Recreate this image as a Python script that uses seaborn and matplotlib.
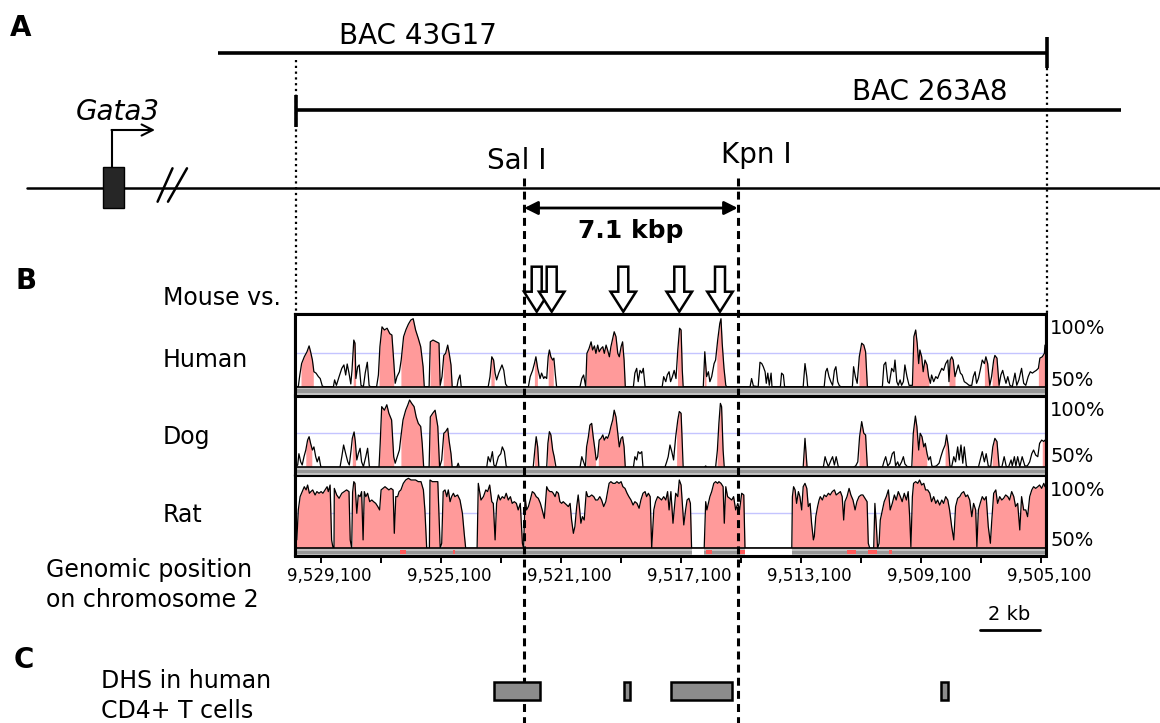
import numpy as np
import pandas as pd
import matplotlib
matplotlib.use("Agg")
import matplotlib.pyplot as plt
import seaborn as sns
from matplotlib.patches import Rectangle, FancyArrow
from matplotlib.transforms import ScaledTranslation

sns.set_theme(style="white")
plt.rcParams["font.family"] = ["DejaVu Sans"]
plt.rcParams["text.color"] = "black"
plt.rcParams["xtick.color"] = "black"
plt.rcParams["axes.labelcolor"] = "black"

# ---------------- data ----------------
# conservation profiles: position = kb from the left end of the VISTA window, identity in %
human_kb = [0.00, 0.11, 0.16, 0.22, 0.31, 0.40, 0.47, 0.52, 0.58, 0.63, 0.70, 0.78, 0.84, 0.91, 0.96,
            1.28, 1.32, 1.38, 1.47, 1.56, 1.63, 1.69, 1.74, 1.80, 1.86, 1.90, 1.96, 2.00, 2.03, 2.09,
            2.14, 2.20, 2.28, 2.34, 2.41, 2.47, 2.51, 2.72, 2.78, 2.83, 2.90, 2.98, 3.07, 3.16, 3.23,
            3.30, 3.34, 3.40, 3.48, 3.54, 3.62, 3.70, 3.78, 3.86, 3.94, 4.02, 4.11, 4.19, 4.27, 4.31,
            4.47, 4.51, 4.60, 4.71, 4.80, 4.84, 4.90, 4.96, 5.02, 5.09, 5.14, 5.20, 5.24, 5.40, 5.44,
            5.50, 5.54, 6.44, 6.50, 6.56, 6.62, 6.67, 6.72, 6.79, 6.84, 6.90, 6.96, 7.02, 7.08, 7.78,
            7.84, 7.92, 7.98, 8.03, 8.09, 8.17, 8.22, 8.29, 8.33, 8.39, 8.44, 8.48, 8.53, 8.59, 8.63,
            8.68, 8.72, 9.50, 9.56, 9.62, 9.69, 9.73, 9.80, 9.87, 9.92, 9.98, 10.03, 10.09, 10.14,
            10.20, 10.26, 10.31, 10.37, 10.42, 10.48, 10.53, 10.59, 10.64, 10.70, 10.76, 10.81, 10.87,
            10.92, 10.97, 11.01, 11.28, 11.33, 11.39, 11.44, 11.50, 11.56, 11.61, 11.67, 12.24, 12.29,
            12.36, 12.41, 12.47, 12.52, 12.58, 12.64, 12.70, 12.76, 12.82, 12.87, 12.91, 12.94, 13.61,
            13.66, 13.72, 13.78, 13.83, 13.89, 13.97, 14.02, 14.09, 14.16, 14.20, 14.24, 14.30, 14.36,
            14.39, 15.17, 15.22, 15.28, 15.44, 15.50, 15.56, 15.61, 15.67, 15.71, 15.76, 15.81, 15.87,
            15.90, 16.18, 16.22, 16.28, 16.32, 16.94, 17.00, 17.06, 17.09, 17.64, 17.69, 17.74, 17.80,
            17.86, 17.92, 17.98, 18.03, 18.09, 18.14, 18.19, 18.58, 18.62, 18.68, 18.74, 18.81, 18.89,
            18.96, 19.02, 19.08, 19.58, 19.63, 19.69, 19.76, 19.81, 19.89, 19.96, 20.00, 20.06, 20.11,
            20.17, 20.22, 20.28, 20.33, 20.40, 20.47, 20.58, 20.63, 20.69, 20.74, 20.79, 20.83, 20.89,
            20.94, 21.00, 21.07, 21.12, 21.18, 21.22, 21.29, 21.36, 21.42, 21.49, 21.56, 21.62, 21.69,
            21.76, 21.80, 21.84, 21.89, 21.94, 22.00, 22.06, 22.11, 22.18, 22.24, 22.31, 22.39, 22.47,
            22.56, 22.61, 22.67, 22.72, 22.78, 22.84, 22.91, 22.98, 23.03, 23.09, 23.16, 23.22, 23.29,
            23.33, 23.40, 23.47, 23.53, 23.59, 23.64, 23.70, 23.76, 23.83, 23.91, 24.00, 24.06, 24.13,
            24.22, 24.29, 24.36, 24.44, 24.51, 24.58, 24.64, 24.71, 24.78, 24.83, 24.91, 24.98, 25.00]
human_pct = [50, 50, 58.6, 67, 72, 75.7, 80, 75.7, 69.6, 61, 60, 57.4, 56, 50.5, 50,
             50, 55, 51, 57.4, 63.5, 66, 58.6, 66.7, 60, 52, 62, 84.3, 82, 56, 64.7,
             66, 51, 50, 60, 68, 51, 50, 50, 58.6, 79.4, 94, 91.7, 93, 89, 88,
             66, 52.5, 57.4, 61, 69.6, 86.8, 92, 96, 99, 100, 91.7, 85.5, 79.4, 64.7, 50,
             50, 83, 84.3, 83, 82, 51, 57.4, 73, 74.5, 80.6, 74.5, 66, 50, 50, 55,
             58.6, 50, 50, 57.4, 72, 69.6, 60, 55, 60, 62.7, 66, 62, 52, 50, 50,
             57.4, 62, 67, 72, 63.5, 56, 60, 56, 57.4, 56, 72, 77, 72, 69.6, 71,
             58.6, 50, 50, 56, 58.6, 50, 74.5, 78, 83, 77, 80, 74.5, 80.6, 75.7,
             78, 79.4, 74.5, 80.6, 77, 72, 79.4, 85.5, 90.4, 86.8, 74.5, 72, 79.4,
             83, 69.6, 50, 50, 60, 63.5, 53.7, 62, 60, 63.5, 50, 50, 57.4,
             53.7, 58.6, 61, 53.7, 57.4, 62, 56, 77, 93, 91.7, 62, 50, 50,
             75.7, 57.4, 61, 53.7, 57.4, 67, 69.6, 84.3, 96.5, 100, 82, 63.5, 51,
             50, 50, 56, 50.5, 50, 68, 67, 64.7, 61, 52.5, 60, 51, 60,
             50, 50, 60, 58.6, 50, 50, 67, 57.4, 50, 50, 61, 63.5, 57.4,
             53.7, 51, 62, 64.7, 53.7, 51, 50, 50, 64.7, 57.4, 52.5, 72, 82,
             80.6, 75.7, 50, 50, 66, 68, 53.7, 52.5, 63.5, 61, 69.6, 53.7, 51,
             55, 51, 53.7, 66, 57.4, 51, 51, 86.8, 91.7, 82, 67, 77, 72,
             61, 69.6, 66, 57.4, 52.5, 58.6, 53.7, 57.4, 56, 60, 63.5, 62, 67,
             69.6, 53.7, 69.6, 72, 69.6, 57.4, 62, 66, 60, 58.6, 53.7, 52.5, 51,
             51, 57.4, 61, 52.5, 56, 62, 69.6, 67, 72, 67, 51, 57.4, 69.6,
             73, 71, 51, 58.6, 62, 57.4, 52.5, 57.4, 51, 50, 60, 51, 55,
             63.5, 52.5, 51, 57.4, 61, 60, 61, 62, 63.5, 71, 72, 74.5, 80.6]

dog_kb = [0.00, 0.09, 0.13, 0.19, 0.24, 0.30, 0.36, 0.42, 0.47, 0.52, 0.58, 0.63, 0.69, 0.74, 0.80,
          0.86, 0.89, 1.50, 1.56, 1.62, 1.69, 1.76, 1.81, 1.87, 1.91, 1.97, 2.01, 2.06, 2.11, 2.17,
          2.22, 2.28, 2.36, 2.42, 2.48, 2.51, 2.80, 2.84, 2.89, 2.98, 3.06, 3.13, 3.22, 3.29, 3.34,
          3.41, 3.48, 3.53, 3.60, 3.69, 3.76, 3.82, 3.89, 3.97, 4.04, 4.11, 4.19, 4.24, 4.29, 4.47,
          4.51, 4.59, 4.67, 4.76, 4.82, 4.89, 4.96, 5.02, 5.09, 5.14, 5.20, 5.24, 5.39, 5.44, 5.48,
          6.39, 6.44, 6.51, 6.58, 6.63, 6.69, 6.78, 6.86, 6.91, 6.98, 7.04, 7.09, 7.94, 8.00, 8.04,
          8.09, 8.13, 8.39, 8.43, 8.48, 8.53, 8.59, 8.64, 8.70, 9.50, 9.56, 9.62, 9.68, 9.72, 9.78,
          9.83, 9.89, 9.94, 10.00, 10.04, 10.09, 10.14, 10.20, 10.26, 10.31, 10.37, 10.42, 10.48,
          10.53, 10.59, 10.64, 10.70, 10.76, 10.81, 10.87, 10.92, 10.97, 11.01, 11.28, 11.33, 11.39,
          11.44, 11.50, 11.56, 11.60, 12.33, 12.39, 12.44, 12.50, 12.56, 12.62, 12.69, 12.76, 12.81,
          12.87, 12.91, 12.94, 13.64, 13.69, 13.73, 14.02, 14.08, 14.13, 14.18, 14.22, 14.27, 14.31,
          16.94, 17.00, 17.07, 17.61, 17.67, 17.72, 17.78, 17.87, 17.92, 17.98, 18.04, 18.11, 18.17,
          18.61, 18.69, 18.76, 18.82, 18.89, 18.96, 19.02, 19.08, 19.58, 19.63, 19.69, 19.76, 19.83,
          19.91, 19.97, 20.02, 20.09, 20.14, 20.22, 20.28, 20.33, 20.41, 20.56, 20.61, 20.68, 20.73,
          20.79, 20.84, 20.90, 20.96, 21.01, 21.07, 21.12, 21.18, 21.23, 21.29, 21.38, 21.47, 21.53,
          21.60, 21.67, 21.72, 21.78, 21.83, 21.89, 21.96, 22.02, 22.09, 22.14, 22.20, 22.26, 22.31,
          22.38, 22.44, 22.78, 22.84, 22.91, 22.98, 23.04, 23.11, 23.19, 23.26, 23.33, 23.40, 23.47,
          23.56, 23.64, 23.71, 23.79, 23.87, 23.91, 23.98, 24.03, 24.09, 24.16, 24.24, 24.33, 24.41,
          24.49, 24.56, 24.62, 24.69, 24.76, 24.82, 24.89, 24.96, 25.00]
dog_pct = [50, 51.7, 60, 54, 51.7, 57.8, 62.7, 70, 72.5, 67.6, 62.7, 65, 57.8, 54, 57.8,
           50.5, 50, 50, 57.8, 66.4, 60, 54, 51.7, 62.7, 71.3, 76, 69, 55.4, 60, 64,
           54, 50.5, 57.8, 64, 50.5, 50, 50, 67.6, 94.6, 92, 96, 89.7, 84.8, 57.8, 53,
           57.8, 62.7, 72.5, 84.8, 92, 95.8, 99.5, 97, 94.6, 87, 82.3, 80, 67.6, 50, 50,
           87, 89.7, 92, 80, 50, 55.4, 75, 76.2, 78.7, 69, 60, 50, 50, 53, 50,
           50, 57.8, 54, 61.5, 51.7, 50.5, 57.8, 60, 65, 61.5, 51, 50, 50, 64, 72.5,
           65, 50, 50, 67.6, 76.2, 73.8, 62.7, 57.8, 50, 50, 57.8, 54, 50, 65, 72.5,
           81, 82.3, 72.5, 62.7, 55.4, 57.8, 70, 71.3, 73.8, 70, 72.5, 71.3, 75,
           80, 84.8, 92, 87, 75, 65, 71.3, 72.5, 65, 50, 50, 57.8, 55.4,
           61.5, 60, 61.5, 50, 50, 54, 57.8, 66.4, 61.5, 55.4, 72.5, 84.8, 91,
           89.7, 67.6, 50, 50, 51, 50, 50, 62.7, 82.3, 97, 94.6, 62.7, 50,
           50, 71.3, 50, 50, 57.8, 54, 50.5, 55.4, 57.8, 51.7, 57.8, 50.5, 50,
           50, 51, 54, 72.5, 83.6, 75, 73.8, 50, 50, 54, 57.8, 51, 53,
           60, 61.5, 51, 54, 50.5, 54, 57.8, 52.5, 50.5, 50.5, 75, 87.7, 80,
           62.7, 75, 72.5, 65, 67.6, 60, 55.4, 57.8, 51, 50.5, 51, 53, 57.8,
           62.7, 66.4, 73.8, 65, 51, 50.5, 57.8, 54, 65, 55.4, 66.4, 53, 65,
           51, 50, 50, 55.4, 61.5, 54, 60, 51, 50.5, 65, 71.3, 68.9, 50.5,
           50, 57.8, 50.5, 50.5, 55.4, 51, 57.8, 51, 57.8, 50.5, 57.8, 51, 51,
           54, 60, 62.7, 59, 57.8, 67.6, 70, 69, 70]

rat_kb = [0.00, 0.06, 0.11, 0.17, 0.24, 0.31, 0.37, 0.42, 0.48, 0.53, 0.59, 0.67, 0.73, 0.80, 0.87,
          0.93, 1.00, 1.07, 1.11, 1.17, 1.22, 1.27, 1.30, 1.31, 1.39, 1.47, 1.56, 1.64, 1.72, 1.80,
          1.84, 1.89, 1.92, 1.96, 2.00, 2.06, 2.11, 2.17, 2.22, 2.27, 2.31, 2.36, 2.42, 2.49, 2.56,
          2.62, 2.69, 2.76, 2.82, 2.87, 2.93, 3.00, 3.07, 3.13, 3.20, 3.27, 3.31, 3.36, 3.42, 3.47,
          3.53, 3.61, 3.69, 3.78, 3.87, 3.96, 4.02, 4.11, 4.20, 4.28, 4.33, 4.39, 4.48, 4.50, 4.58,
          4.67, 4.76, 4.81, 4.84, 4.89, 4.94, 5.00, 5.06, 5.11, 5.17, 5.22, 5.28, 5.33, 5.42, 5.50,
          5.58, 5.64, 5.69, 6.07, 6.11, 6.20, 6.28, 6.36, 6.42, 6.49, 6.56, 6.61, 6.67, 6.72, 6.78,
          6.84, 6.91, 6.98, 7.04, 7.11, 7.18, 7.24, 7.31, 7.38, 7.44, 7.51, 7.58, 7.62, 7.67, 7.72,
          7.78, 7.84, 7.91, 7.98, 8.04, 8.11, 8.18, 8.24, 8.31, 8.39, 8.44, 8.50, 8.56, 8.61, 8.67,
          8.72, 8.78, 8.83, 8.89, 8.94, 9.00, 9.06, 9.11, 9.17, 9.22, 9.28, 9.33, 9.39, 9.44, 9.49,
          9.53, 9.58, 9.64, 9.71, 9.76, 9.82, 9.89, 9.96, 10.02, 10.09, 10.16, 10.22, 10.29, 10.36,
          10.42, 10.47, 10.53, 10.60, 10.67, 10.73, 10.80, 10.87, 10.93, 11.00, 11.07, 11.13, 11.20,
          11.27, 11.33, 11.40, 11.47, 11.53, 11.60, 11.67, 11.72, 11.78, 11.84, 11.89, 11.96, 12.02,
          12.09, 12.16, 12.22, 12.29, 12.36, 12.42, 12.47, 12.53, 12.60, 12.64, 12.69, 12.76, 12.81,
          12.87, 12.91, 12.96, 13.02, 13.07, 13.13, 13.18, 13.22, 13.64, 13.69, 13.73, 13.78, 13.83,
          13.89, 13.96, 14.02, 14.09, 14.13, 14.20, 14.27, 14.31, 14.36, 14.42, 14.49, 14.56, 14.62,
          14.69, 14.76, 14.82, 14.89, 14.96, 15.00, 16.56, 16.58, 16.62, 16.67, 16.72, 16.78, 16.83,
          16.89, 16.94, 17.00, 17.06, 17.11, 17.17, 17.22, 17.28, 17.31, 17.36, 17.42, 17.47, 17.51,
          17.58, 17.64, 17.71, 17.78, 17.84, 17.91, 17.98, 18.04, 18.11, 18.18, 18.24, 18.29, 18.33,
          18.40, 18.47, 18.53, 18.60, 18.67, 18.73, 18.80, 18.87, 18.93, 19.00, 19.07, 19.11, 19.16,
          19.29, 19.33, 19.38, 19.42, 19.47, 19.51, 19.58, 19.64, 19.71, 19.78, 19.84, 19.91, 19.98,
          20.04, 20.11, 20.18, 20.24, 20.31, 20.38, 20.44, 20.49, 20.53, 20.58, 20.62, 20.69, 20.76,
          20.82, 20.89, 20.96, 21.02, 21.09, 21.16, 21.22, 21.29, 21.36, 21.42, 21.49, 21.56, 21.62,
          21.69, 21.76, 21.82, 21.89, 21.96, 22.02, 22.09, 22.16, 22.22, 22.29, 22.36, 22.42, 22.49,
          22.56, 22.62, 22.69, 22.73, 22.78, 22.84, 22.91, 22.98, 23.04, 23.11, 23.18, 23.22, 23.29,
          23.36, 23.42, 23.49, 23.56, 23.62, 23.69, 23.76, 23.82, 23.89, 23.96, 24.02, 24.09, 24.16,
          24.22, 24.29, 24.36, 24.42, 24.49, 24.56, 24.62, 24.69, 24.76, 24.82, 24.89, 24.96, 25.00]
rat_pct = [56, 56, 77.4, 86.9, 90.5, 94, 91.7, 95.2, 89.3, 90.5, 91.7, 88.1, 90.5, 89.3, 90.5,
           89.3, 91.7, 94, 90.5, 95.2, 56, 50, 50, 92.8, 88.1, 85.7, 89.3, 90.5, 91.7, 90.5,
           56, 50, 90, 97.6, 96.4, 75, 88.1, 86.9, 90.5, 56, 90.5, 86.9, 89.3, 83.3, 84.5,
           83.3, 82.1, 79.8, 77.4, 91.7, 92.8, 94, 92.8, 91.7, 92.8, 91.7, 60.7, 86.9, 86.9, 90.5,
           91.7, 96.4, 98.8, 100, 98.8, 98.8, 98.8, 97.6, 97.6, 91.7, 77.4, 50, 50, 98.8, 97.6,
           97.6, 97.6, 67.9, 50, 53.6, 90.5, 91.7, 86.9, 91.7, 83.3, 86.9, 89.3, 86.9, 88.1, 84.5,
           75, 60.7, 50, 50, 96.4, 84.5, 86.9, 91.7, 90.5, 95.2, 83.3, 82.1, 56, 82.1, 88.1,
           84.5, 86.9, 85.7, 89.3, 84.5, 86.9, 82.1, 83.3, 82.1, 77.4, 82.1, 53.6, 50, 86.9, 77.4,
           79.8, 84.5, 90.5, 89.3, 86.9, 85.7, 82.1, 77.4, 71.4, 94, 91.7, 90.5, 90.5, 89.3, 86.9,
           90.5, 89.3, 83.3, 82.1, 83.3, 82.1, 80.9, 79.8, 82.1, 70.2, 60.7, 65.5, 79.8, 88.1, 77.4,
           67.9, 72.6, 70.2, 90.5, 86.9, 86.9, 88.1, 86.9, 84.5, 84.5, 86.9, 84.5, 79.8, 83.3,
           90.5, 96.4, 97.6, 96.4, 96.4, 97.6, 96.4, 97.6, 94, 92.8, 89.3, 86.9, 84.5,
           80.9, 83.3, 82.1, 78.6, 84.5, 89.3, 90.5, 86.9, 89.3, 86.9, 50, 77.4, 83.3,
           86.9, 85.7, 84.5, 86.9, 84.5, 90.5, 77.4, 90.5, 67.9, 77.4, 89.3, 86.9, 98.8,
           95.2, 82.1, 66.7, 77.4, 84.5, 85.7, 82.1, 50, 50, 83.3, 77.4, 82.1, 86.9,
           90.5, 96.4, 97.6, 96.4, 97.6, 96.4, 94, 67.9, 94, 86.9, 85.7, 84.5, 86.9,
           77.4, 82.1, 77.4, 89.3, 88.1, 50, 50, 86.9, 94, 91.7, 82.1, 90.5, 86.9,
           77.4, 94, 96.4, 92.8, 79.8, 82.1, 67.9, 56, 58.3, 72.6, 79.8, 84.5, 86.9,
           84.5, 88.1, 86.9, 89.3, 88.1, 90.5, 91.7, 88.1, 89.3, 90.5, 86.9, 70.2, 83.3,
           86.9, 92.8, 88.1, 84.5, 77.4, 83.3, 86.9, 88.1, 88.1, 85.7, 83.3, 53.6, 50,
           50, 82.1, 65.5, 50, 53.6, 70.2, 77.4, 83.3, 86.9, 91.7, 77.4, 82.1, 88.1,
           84.5, 90.5, 86.9, 83.3, 89.3, 84.5, 90.5, 72.6, 51.2, 86.9, 96.4, 97.6, 96.4,
           98.8, 95.2, 96.4, 91.7, 91.7, 89.3, 83.3, 86.9, 82.1, 84.5, 80.9, 84.5, 82.1,
           86.9, 84.5, 77.4, 65.5, 56, 79.8, 85.7, 86.9, 89.3, 90.5, 86.9, 88.1, 84.5,
           72.6, 82.1, 77.4, 51.2, 77.4, 82.1, 86.9, 84.5, 86.9, 65.5, 53.6, 67.9, 89.3,
           91.7, 82.1, 86.9, 84.5, 85.7, 88.1, 86.9, 84.5, 90.5, 86.9, 79.8, 82.1, 63.1,
           86.9, 77.4, 77.4, 72.6, 86.9, 91.7, 94, 92.8, 94, 95.2, 92.8, 96.4, 94]

# conserved (pink) segments, kb from the window's left end
human_cns = [(0.20, 0.61), (1.94, 2.02), (2.80, 3.29), (3.53, 4.28), (4.50, 4.83), (4.94, 5.24),
             (6.53, 6.64), (7.98, 8.08), (8.44, 8.61), (9.71, 11.0), (12.75, 12.92), (13.64, 13.70),
             (14.06, 14.33), (18.80, 19.08), (20.58, 21.13), (21.80, 22.0), (22.98, 23.15),
             (23.24, 23.47), (24.78, 25.0)]
dog_cns = [(0.36, 0.56), (1.91, 2.02), (2.80, 3.29), (3.53, 4.27), (4.49, 4.81), (4.94, 5.22),
           (7.98, 8.11), (8.42, 8.64), (9.71, 10.02), (10.11, 11.0), (12.72, 12.91), (14.07, 14.28),
           (16.96, 17.07), (18.80, 19.08), (20.58, 21.06), (21.67, 21.80), (23.24, 23.47), (24.91, 25.0)]
rat_cns = [(0.05, 1.22), (1.30, 1.84), (1.91, 4.39), (4.48, 4.81), (4.89, 5.67), (6.07, 7.58),
           (7.64, 13.22), (13.64, 15.0), (16.56, 19.11), (19.29, 19.40), (19.47, 25.0)]
rat_strip_gaps = [(13.22, 13.64), (15.0, 16.56)]
rat_strip_red = [(3.50, 3.70), (5.26, 5.33), (13.70, 13.90), (14.75, 15.0), (18.40, 18.70),
                 (19.10, 19.40), (19.80, 19.90)]

# genomic coordinates (kb on chromosome 2)
WINDOW_LEFT, WINDOW_RIGHT = 9529.967, 9504.933
tick_major = [9529.1, 9525.1, 9521.1, 9517.1, 9513.1, 9509.1, 9505.1]
tick_major_labels = ["9,529,100", "9,525,100", "9,521,100", "9,517,100", "9,513,100", "9,509,100", "9,505,100"]
tick_minor = [9527.1, 9523.1, 9519.1, 9515.1, 9511.1, 9507.1]
SAL_I, KPN_I = 9522.323, 9515.21
bac_43g17 = (9532.533, 9504.90)
bac_263a8 = (9529.95, 9502.433)
gata3_exon = (9536.38, 9535.653)
gata3_tss, gata3_arrow_end = 9536.083, 9534.633
break_marks = [(9534.547, 9534.05), (9534.20, 9533.567)]
chrom_extent = (9538.9, 9501.133)
cns_arrows = [9521.91, 9521.41, 9519.024, 9517.157, 9515.80]
dhs_sites = [(9523.324, 9521.797), (9519.0, 9518.8), (9517.447, 9515.41), (9508.444, 9508.2)]
scale_bar = (9507.15, 9505.15)

# ---------------- figure ----------------
W, H = 1160, 723
fig = plt.figure(figsize=(W / 100, H / 100), dpi=100)
PINK = "#ff9a9a"


def fx(px):
    return px / W


def fy(py):
    return 1 - py / H


# track layout: name, kb, pct, cns, top px, bottom px, 50% px, 100% px
tracks = [
    ("Human", human_kb, human_pct, human_cns, 314, 395, 386.7, 318.7),
    ("Dog", dog_kb, dog_pct, dog_cns, 397, 475, 467.3, 399.3),
    ("Rat", rat_kb, rat_pct, rat_cns, 476, 556, 548.3, 478.3),
]
track_axes = []
for name, kb, pct, cns, top, bot, p50, p100 in tracks:
    ax = fig.add_axes([fx(295), fy(bot), fx(751), (bot - top) / H])
    ppp = (p50 - p100) / 50.0
    ylo = 50 - (bot - p50) / ppp
    yhi = 100 + (p100 - top) / ppp
    ax.set_xlim(WINDOW_LEFT, WINDOW_RIGHT)
    ax.set_ylim(ylo, yhi)
    kb = np.asarray(kb, float)
    pct = np.asarray(pct, float)
    gx = WINDOW_LEFT - kb
    ax.axhline(75, color="#c4c4ff", lw=1.0, zorder=0.5)
    for a, b in cns:
        inside = kb[(kb > a) & (kb < b)]
        xs = np.concatenate([[a], inside, [b]])
        ys = np.interp(xs, kb, pct)
        ax.fill_between(WINDOW_LEFT - xs, 50, ys, color=PINK, lw=0, zorder=1)
    df = pd.DataFrame({"pos": gx, "pct": pct})
    sns.lineplot(data=df, x="pos", y="pct", ax=ax, color="black", lw=0.9,
                 estimator=None, sort=True, zorder=2)
    # alignment strip under each track
    h = 50 - ylo
    ax.axhspan(ylo, 50, color="#c2c2c2", zorder=3, lw=0)
    ax.axhspan(ylo + 0.3 * h, ylo + 0.7 * h, color="#979797", zorder=3.1, lw=0)
    if name == "Rat":
        for a, b in rat_strip_gaps:
            ax.add_patch(Rectangle((WINDOW_LEFT - b, ylo), b - a, h, color="white", lw=0, zorder=3.2))
        for a, b in rat_strip_red:
            ax.add_patch(Rectangle((WINDOW_LEFT - b, ylo + 0.25 * h), b - a, 0.5 * h,
                                   color="#ff5a5a", lw=0, zorder=3.3))
    ax.axhline(50, color="black", lw=1.2, zorder=4)
    ax.set_xlabel("")
    ax.set_ylabel("")
    ax.set_yticks([])
    for s in ax.spines.values():
        s.set_visible(True)
        s.set_color("black")
        s.set_linewidth(1.5)
    ax.set_xticks([])
    track_axes.append(ax)

# ticks on the bottom track
axr = track_axes[-1]
axr.set_xticks(tick_major)
axr.set_xticklabels(tick_major_labels)
axr.set_xticks(tick_minor, minor=True)
axr.tick_params(axis="x", which="both", bottom=True, direction="out", length=5, width=1.4,
                color="black", labelsize=12, pad=3, labelcolor="black")
for lab in axr.get_xticklabels():
    lab.set_transform(lab.get_transform() + ScaledTranslation(8 / 100, 0, fig.dpi_scale_trans))

# overlay for schematic elements: x = genomic kb, y = pixel rows
ax0 = fig.add_axes([0, 0, 1, 1], zorder=10)
ax0.set_xlim(9529.1 + 321 / 30, 9529.1 - (W - 321) / 30)
ax0.set_ylim(H, 0)
ax0.axis("off")

# outer box of the VISTA panel
ax0.add_patch(Rectangle((WINDOW_RIGHT, 314), WINDOW_LEFT - WINDOW_RIGHT, 556 - 314,
                        fill=False, ec="black", lw=2.2))

# BAC clones
ax0.plot(bac_43g17, [52.7, 52.7], color="black", lw=2.6, solid_capstyle="butt")
ax0.plot([bac_43g17[1]] * 2, [37, 68], color="black", lw=2.6, solid_capstyle="butt")
ax0.text(9525.867, 36, "BAC 43G17", ha="center", va="center", fontsize=20)
ax0.plot(bac_263a8, [110, 110], color="black", lw=2.6, solid_capstyle="butt")
ax0.plot([bac_263a8[0]] * 2, [95, 127], color="black", lw=2.6, solid_capstyle="butt")
ax0.text(9508.8, 92, "BAC 263A8", ha="center", va="center", fontsize=20)
ax0.plot([bac_263a8[0]] * 2, [60, 314], color="black", lw=1.6, ls=(0, (1, 1.6)))
ax0.plot([bac_43g17[1]] * 2, [68, 314], color="black", lw=1.6, ls=(0, (1, 1.6)))

# chromosome line, Gata3
ax0.plot(chrom_extent, [188, 188], color="black", lw=1.8)
ax0.add_patch(Rectangle((gata3_exon[1], 167), gata3_exon[0] - gata3_exon[1], 41,
                        fc="#262626", ec="black", lw=1, zorder=3))
ax0.plot([gata3_tss, gata3_tss], [167, 130], color="black", lw=1.5)
ax0.annotate("", xy=(gata3_arrow_end, 130), xytext=(gata3_tss, 130),
             arrowprops=dict(arrowstyle="->", lw=1.5, color="black", mutation_scale=20,
                             shrinkA=0, shrinkB=0))
ax0.text(9535.867, 112, "Gata3", ha="center", va="center", fontsize=20, style="italic")
for xa, xb in break_marks:
    ax0.plot([xa, xb], [201.7, 168.3], color="black", lw=1.8)

# restriction sites
for site in (SAL_I, KPN_I):
    ax0.plot([site, site], [178, H], color="black", lw=2.2, ls=(0, (2.6, 1.7)))
ax0.text(9522.567, 161, "Sal I", ha="center", va="center", fontsize=20)
ax0.text(9514.6, 155, "Kpn I", ha="center", va="center", fontsize=20)
ax0.annotate("", xy=(KPN_I, 208), xytext=(SAL_I, 208),
             arrowprops=dict(arrowstyle="<|-|>", lw=2, color="black", mutation_scale=20,
                             shrinkA=0, shrinkB=0))
ax0.text(9518.767, 231, "7.1 kbp", ha="center", va="center", fontsize=18, fontweight="bold")

# conserved-element arrows
for g in cns_arrows:
    ax0.add_patch(FancyArrow(g, 266.7, 0, 45, width=0.333, head_width=0.85, head_length=20,
                             length_includes_head=True, fc="white", ec="black", lw=1.8))

# DHS sites
for a, b in dhs_sites:
    ax0.add_patch(Rectangle((b, 682), a - b, 18, fc="#8c8c8c", ec="black", lw=1.8, zorder=3))

# scale bar
ax0.plot(scale_bar, [630, 630], color="black", lw=2)
ax0.text(np.mean(scale_bar), 615, "2 kb", ha="center", va="center", fontsize=14)

# text labels
fig.text(fx(10), fy(28), "A", fontsize=20, fontweight="bold", va="center", ha="left")
fig.text(fx(15), fy(281), "B", fontsize=20, fontweight="bold", va="center", ha="left")
fig.text(fx(14), fy(660), "C", fontsize=20, fontweight="bold", va="center", ha="left")
fig.text(fx(163), fy(298), "Mouse vs.", fontsize=17, va="center", ha="left")
for lab, yy in (("Human", 360), ("Dog", 437), ("Rat", 515)):
    fig.text(fx(163), fy(yy), lab, fontsize=17, va="center", ha="left")
fig.text(fx(46), fy(570), "Genomic position", fontsize=17, va="center", ha="left")
fig.text(fx(46), fy(600), "on chromosome 2", fontsize=17, va="center", ha="left")
fig.text(fx(101), fy(681), "DHS in human", fontsize=17, va="center", ha="left")
fig.text(fx(101), fy(711), "CD4+ T cells", fontsize=17, va="center", ha="left")
for t100, t50 in ((329, 380), (410, 457), (490, 540)):
    fig.text(fx(1050), fy(t100), "100%", fontsize=14, va="center", ha="left")
    fig.text(fx(1050), fy(t50), "50%", fontsize=14, va="center", ha="left")

fig.savefig("out.png", dpi=100)
